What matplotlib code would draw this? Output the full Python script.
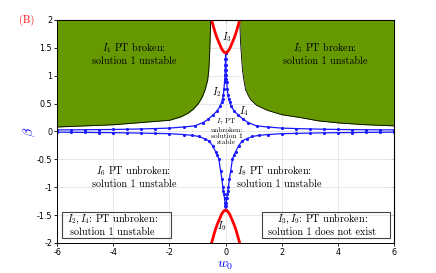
import matplotlib
matplotlib.use("Agg")
import matplotlib.pyplot as plt
import numpy as np
from matplotlib.patches import Rectangle

params = {
    "mathtext.fontset": "cm",
    "axes.unicode_minus": False,
    "font.size": 5.5,
}
plt.rcParams.update(params)

# green "PT broken" regions: lower boundary (w0, beta), filled up to beta = 2
w_left_edge = [-6, -5, -4, -3, -2, -1.6, -1.33, -1.15, -0.97, -0.83, -0.73, -0.64, -0.6, -0.57, -0.55, -0.53]
b_left_edge = [0.08, 0.1, 0.12, 0.16, 0.2, 0.26, 0.33, 0.4, 0.5, 0.62, 0.75, 0.92, 1.1, 1.4, 1.7, 2.0]
w_right_edge = [0.5, 0.53, 0.57, 0.6, 0.65, 0.71, 0.8, 0.89, 1.1, 1.48, 2.0, 2.65, 3.3, 4.07, 5.0, 6.0]
b_right_edge = [2.0, 1.6, 1.3, 1.1, 0.92, 0.75, 0.65, 0.57, 0.47, 0.38, 0.3, 0.25, 0.19, 0.15, 0.12, 0.1]

# red curves (existence boundary)
w_red = [-0.5, -0.45, -0.4, -0.35, -0.3, -0.25, -0.2, -0.15, -0.1, -0.05, 0,
         0.05, 0.1, 0.15, 0.2, 0.25, 0.3, 0.35, 0.4, 0.45, 0.5]
b_red_top = [2.0, 1.91, 1.82, 1.74, 1.67, 1.61, 1.55, 1.49, 1.45, 1.42, 1.41,
             1.42, 1.45, 1.49, 1.55, 1.61, 1.67, 1.74, 1.82, 1.91, 2.0]
b_red_bot = [-2.0, -1.91, -1.82, -1.74, -1.67, -1.61, -1.55, -1.49, -1.45, -1.42, -1.41,
             -1.42, -1.45, -1.49, -1.55, -1.61, -1.67, -1.74, -1.82, -1.91, -2.0]

# blue stability boundaries, w0 >= 0 half (mirrored for w0 < 0)
w_up = [0, 0.005, 0.01, 0.015, 0.02, 0.03, 0.04, 0.06, 0.08, 0.11, 0.14, 0.2, 0.3, 0.44,
        0.62, 0.8, 1.1, 1.5, 2.0, 2.5, 3.0, 3.5, 4.0, 4.5, 5.0, 5.5, 6.0]
b_up = [1.41, 1.3, 1.2, 1.1, 1.02, 0.94, 0.88, 0.76, 0.66, 0.59, 0.53, 0.45, 0.37, 0.3,
        0.22, 0.16, 0.1, 0.08, 0.06, 0.052, 0.045, 0.04, 0.035, 0.033, 0.031, 0.029, 0.028]
w_low = [0, 0.01, 0.02, 0.04, 0.06, 0.08, 0.1, 0.13, 0.18, 0.24, 0.3, 0.36, 0.46, 0.59,
         0.75, 0.95, 1.2, 1.5, 2.0, 2.5, 3.0, 3.5, 4.0, 4.5, 5.0, 5.5, 6.0]
b_low = [-1.4, -1.34, -1.28, -1.2, -1.12, -1.06, -1.0, -0.86, -0.71, -0.5, -0.42, -0.36, -0.26,
         -0.17, -0.13, -0.09, -0.07, -0.055, -0.04, -0.035, -0.03, -0.025, -0.022, -0.02,
         -0.017, -0.015, -0.013]

green = "#669900"
blue = "#1a1aff"

fig = plt.figure(figsize=(4.36, 2.73), dpi=100)
ax = fig.add_axes([0.131, 0.110, 0.773, 0.817])

ax.fill_between(w_left_edge, b_left_edge, 2, color=green, lw=0)
ax.plot(w_left_edge, b_left_edge, color="k", lw=0.6)
ax.fill_between(w_right_edge, b_right_edge, 2, color=green, lw=0)
ax.plot(w_right_edge, b_right_edge, color="k", lw=0.6)

for w, b in [(w_up, b_up), (w_low, b_low)]:
    ww = np.concatenate([-np.array(w[::-1]), np.array(w)])
    bb = np.concatenate([np.array(b[::-1]), np.array(b)])
    ax.plot(ww, bb, color=blue, lw=0.9, marker=".", ms=2.5)

ax.plot(w_red, b_red_top, color="red", lw=2)
ax.plot(w_red, b_red_bot, color="red", lw=2)

ax.set_xlim(-6, 6)
ax.set_ylim(-2, 2)
ax.set_xticks(np.arange(-6, 7, 2))
ax.set_yticks(np.arange(-2, 2.01, 0.5))
ax.set_yticklabels(["-2", "-1.5", "-1", "-0.5", "0", "0.5", "1", "1.5", "2"])
ax.grid(True, color="#e3e3e3", lw=0.6)
ax.set_axisbelow(True)
ax.tick_params(direction="out", length=2, width=0.6, pad=1.5, labelsize=5.8)
for s in ax.spines.values():
    s.set_linewidth(0.7)
    s.set_zorder(5)

top = ax.secondary_xaxis("top")
top.set_xticks(np.arange(-6, 7, 2))
top.tick_params(direction="in", length=2, width=0.6, labeltop=False)
right = ax.secondary_yaxis("right")
right.set_yticks(np.arange(-2, 2.01, 0.5))
right.tick_params(direction="in", length=2, width=0.6, labelright=False)

ax.set_xlabel(r"$w_0$", color="blue", fontsize=10, labelpad=1)
ax.set_ylabel(r"$\beta$", color="blue", fontsize=10, labelpad=0)
fig.text(0.062, 0.927, "(B)", color="red", fontsize=7.5, family="cmr10", va="center", ha="center")

tk = dict(family="cmr10", fontsize=7.3, ha="center", va="center", linespacing=1.2)
ax.text(-3.27, 1.40, "$I_1$ PT broken:\nsolution 1 unstable", **tk)
ax.text(3.55, 1.40, "$I_5$ PT broken:\nsolution 1 unstable", **tk)
ax.text(-3.27, -0.80, "$I_6$ PT unbroken:\nsolution 1 unstable", **tk)
ax.text(0.42, -0.80, "$I_8$ PT unbroken:\nsolution 1 unstable",
        **{**tk, "ha": "left"})
ax.text(0.05, 1.70, "$I_3$", **tk)
ax.text(-0.32, 0.70, "$I_2$", **tk)
ax.text(0.65, 0.36, "$I_4$", **tk)
ax.text(-0.15, -1.70, "$I_9$", **tk)
ax.text(0.03, 0.01, "$I_7$ PT\nunbroken:\nsolution 1\nstable",
        **{**tk, "fontsize": 5.3, "linespacing": 1.1})

ax.add_patch(Rectangle((-5.84, -1.91), 3.88, 0.46, fill=False, ec="#444444", lw=0.8, zorder=4))
ax.add_patch(Rectangle((1.28, -1.91), 4.56, 0.46, fill=False, ec="#444444", lw=0.8, zorder=4))
ax.text(-4.02, -1.67, "$I_2, I_4$: PT unbroken:\nsolution 1 unstable", **tk)
ax.text(3.44, -1.67, "$I_3, I_9$: PT unbroken:\nsolution 1 does not exist", **tk)

fig.savefig("out.png", dpi=100)
